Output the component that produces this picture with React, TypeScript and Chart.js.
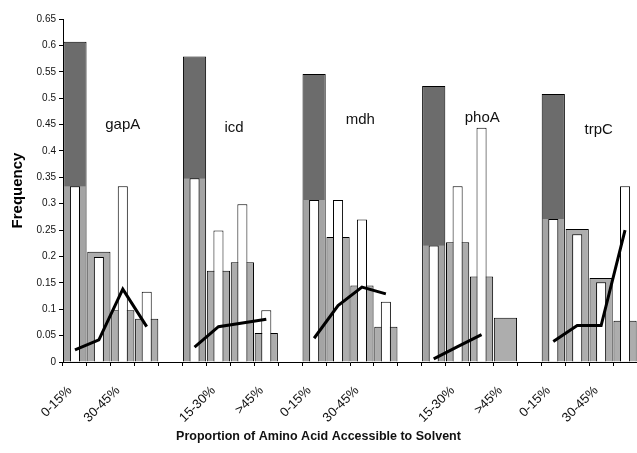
import { useEffect, useRef } from 'react';
import { Chart, registerables } from 'chart.js';

Chart.register(...registerables);

// ---- data ----
const genes = ['gapA', 'icd', 'mdh', 'phoA', 'trpC'];
const bins = ['0-15%', '15-30%', '30-45%', '>45%'];

// wide grey bars (one row per gene, one value per accessibility bin)
const grayBars: (number | null)[][] = [
  [0.607, 0.209, 0.098, 0.082],
  [0.579, 0.173, 0.189, 0.055],
  [0.546, 0.237, 0.145, 0.067],
  [0.523, 0.227, 0.162, 0.084],
  [0.508, 0.252, 0.159, 0.078],
];

// narrow white bars
const whiteBars: (number | null)[][] = [
  [0.333, 0.199, 0.333, 0.133],
  [0.348, 0.249, 0.299, 0.098],
  [0.307, 0.307, 0.270, 0.114],
  [0.221, 0.333, 0.444, null],
  [0.271, 0.242, 0.151, 0.333],
];

// black line
const lineValues: (number | null)[][] = [
  [0.023, 0.042, 0.138, 0.067],
  [0.028, 0.067, 0.074, 0.081],
  [0.045, 0.107, 0.142, 0.129],
  [0.006, 0.029, 0.052, null],
  [0.039, 0.069, 0.069, 0.25],
];

const yTickValues = [0, 0.05, 0.1, 0.15, 0.2, 0.25, 0.3, 0.35, 0.4, 0.45, 0.5, 0.55, 0.6, 0.65];

// ---- build category axis with an empty slot between genes ----
const labels: string[] = [];
const flat = (rows: (number | null)[][]) => {
  const out: (number | null)[] = [];
  rows.forEach((r, gi) => {
    r.forEach((v) => out.push(v));
    if (gi < rows.length - 1) out.push(null);
  });
  return out;
};
genes.forEach((_, gi) => {
  bins.forEach((b) => labels.push(b));
  if (gi < genes.length - 1) labels.push('');
});
const grayFlat = flat(grayBars);
const whiteFlat = flat(whiteBars);
const lineFlat = flat(lineValues);

const FONT = "'Liberation Sans', Arial, Helvetica, sans-serif";

const annotations = {
  id: 'annotations',
  afterDatasetsDraw(chart: any) {
    const { ctx, scales } = chart;
    const x = scales.x;
    const y = scales.y;
    const pos = [
      [2.0, 0.449],
      [6.65, 0.444],
      [11.93, 0.459],
      [17.03, 0.462],
      [21.9, 0.44],
    ];
    ctx.save();
    ctx.fillStyle = '#111';
    ctx.font = `15px ${FONT}`;
    ctx.textAlign = 'center';
    ctx.textBaseline = 'middle';
    genes.forEach((g, i) => {
      ctx.fillText(g, x.getPixelForValue(pos[i][0]), y.getPixelForValue(pos[i][1]));
    });
    ctx.font = `bold 12.5px ${FONT}`;
    ctx.fillText('Proportion of Amino Acid Accessible to Solvent', chart.width / 2, 437);
    ctx.restore();
  },
};

export default function App() {
  const ref = useRef<HTMLCanvasElement>(null);
  useEffect(() => {
    if (!ref.current) return;
    const chart = new Chart(ref.current, {
      type: 'bar',
      data: {
        labels,
        datasets: [
          {
            type: 'line',
            data: lineFlat,
            borderColor: '#000',
            borderWidth: 3,
            pointRadius: 0,
            tension: 0,
            spanGaps: false,
            order: 0,
          } as any,
          {
            type: 'bar',
            data: whiteFlat,
            backgroundColor: '#fff',
            borderColor: '#000',
            borderWidth: 1,
            grouped: false,
            barPercentage: 0.42,
            categoryPercentage: 1,
            order: 1,
          },
          {
            type: 'bar',
            data: grayFlat,
            backgroundColor: (c: any) => {
              const i = c.dataIndex;
              if (i === undefined || i % 5 !== 0) return '#adadad';
              const chart = c.chart;
              const { chartArea, scales } = chart;
              if (!chartArea || !scales.y) return '#7a7a7a';
              const top = scales.y.getPixelForValue(grayFlat[i] as number);
              const mid = scales.y.getPixelForValue((whiteFlat[i] as number) ?? 0);
              const bot = scales.y.getPixelForValue(0);
              const g = chart.ctx.createLinearGradient(0, top, 0, bot);
              const f = Math.max(0, Math.min(0.999, (mid - top) / (bot - top)));
              g.addColorStop(0, '#6c6c6c');
              g.addColorStop(f, '#6c6c6c');
              g.addColorStop(f + 0.001, '#a4a4a4');
              g.addColorStop(1, '#a4a4a4');
              return g;
            },
            borderColor: '#000',
            borderWidth: 1,
            grouped: false,
            barPercentage: 0.97,
            categoryPercentage: 1,
            order: 2,
          },
        ],
      },
      options: {
        animation: false,
        responsive: false,
        layout: { padding: { top: 19, right: 0, left: 0, bottom: 0 } },
        plugins: {
          legend: { display: false },
          tooltip: { enabled: false },
        },
        scales: {
          x: {
            offset: true,
            grid: {
              display: true,
              drawOnChartArea: false,
              drawTicks: true,
              tickLength: 4,
              color: '#000',
              offset: true,
            },
            border: { display: true, color: '#000', width: 1 },
            ticks: {
              autoSkip: false,
              minRotation: 45,
              maxRotation: 45,
              color: '#111',
              font: { family: FONT, size: 13 },
              padding: 17,
              labelOffset: -5,
              callback: (_v: any, i: number) => (i % 2 === 0 ? labels[i] : ''),
            },
            afterFit: (s: any) => {
              s.height = 91;
              s.paddingLeft = 0;
              s.paddingRight = 0;
            },
          },
          y: {
            min: 0,
            max: 0.65,
            afterBuildTicks: (s: any) => {
              s.ticks = yTickValues.map((v) => ({ value: v }));
            },
            grid: {
              display: true,
              drawOnChartArea: false,
              drawTicks: true,
              tickLength: 4,
              color: '#000',
            },
            border: { display: true, color: '#000', width: 1 },
            ticks: {
              color: '#111',
              font: { family: FONT, size: 10 },
              padding: 3,
              callback: (v: any) => String(Math.round(Number(v) * 100) / 100),
            },
            title: {
              display: true,
              text: 'Frequency',
              color: '#000',
              font: { family: FONT, size: 15, weight: 'bold' },
              padding: { top: 9, bottom: 0 },
            },
            afterFit: (s: any) => {
              s.width = 63;
            },
          },
        },
      },
      plugins: [annotations],
    });
    return () => chart.destroy();
  }, []);
  return (
    <div style={{ position: 'fixed', left: 0, top: 0, width: 637, height: 453, background: '#fff' }}>
      <canvas ref={ref} width={637} height={453} />
    </div>
  );
}
